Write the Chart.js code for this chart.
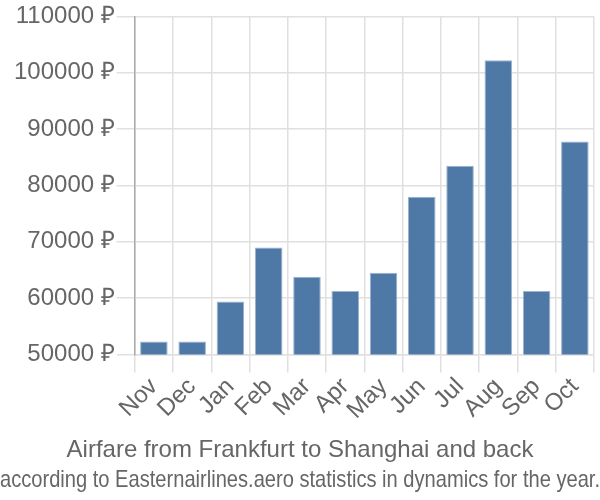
<!DOCTYPE html>
<html>
<head>
<meta charset="utf-8">
<script src="https://cdn.jsdelivr.net/npm/chart.js@4"></script>
<style>
  html, body { margin: 0; padding: 0; background: #fff; }
  #wrap { width: 600px; height: 500px; }
</style>
</head>
<body>
<div id="wrap"><canvas id="chart" width="600" height="500"></canvas></div>
<script>
// monthly airfare, rubles
const months = ['Nov', 'Dec', 'Jan', 'Feb', 'Mar', 'Apr', 'May', 'Jun', 'Jul', 'Aug', 'Sep', 'Oct'];
const prices = [52300, 52300, 59400, 69000, 63800, 61300, 64500, 78000, 83500, 102200, 61300, 87800];
const titleLines = ['Airfare from Frankfurt to Shanghai and back',
  'according to Easternairlines.aero statistics in dynamics for the year.'];

const font = { family: 'Liberation Sans', size: 24 };

new Chart(document.getElementById('chart'), {
  type: 'bar',
  data: {
    labels: months,
    datasets: [{
      data: prices,
      backgroundColor: '#4e79a7',
      borderColor: '#9db3cc',
      borderWidth: 1
    }]
  },
  options: {
    responsive: false,
    animation: false,
    layout: { padding: { top: -2, left: 0, right: 0, bottom: 0 } },
    plugins: {
      legend: { display: false },
      tooltip: { enabled: false },
      title: {
        display: true,
        position: 'bottom',
        text: titleLines,
        color: '#666',
        font: { family: 'Liberation Sans', size: 24, weight: 'normal', lineHeight: 1.25 },
        padding: { top: 10, bottom: 5 }
      }
    },
    scales: {
      x: {
        grid: { color: '#e0e0e0', lineWidth: 1.5, tickLength: 18 },
        border: { color: '#e0e0e0', width: 1.5 },
        ticks: {
          color: '#666',
          font: font,
          autoSkip: false,
          maxRotation: 45,
          minRotation: 45,
          padding: 0
        },
        // keep a small gap at the right edge without shrinking the title
        afterFit: s => { s.paddingRight = Math.max(s.paddingRight, 6); }
      },
      y: {
        min: 50000,
        max: 110000,
        grid: { color: '#e0e0e0', lineWidth: 1.5, tickLength: 18 },
        border: { color: '#aaa', width: 1.5 },
        ticks: {
          stepSize: 10000,
          color: '#666',
          font: font,
          padding: 2,
          callback: v => v + ' ₽'
        },
        afterFit: s => { s.width += 12; }
      }
    }
  }
});
</script>
</body>
</html>
